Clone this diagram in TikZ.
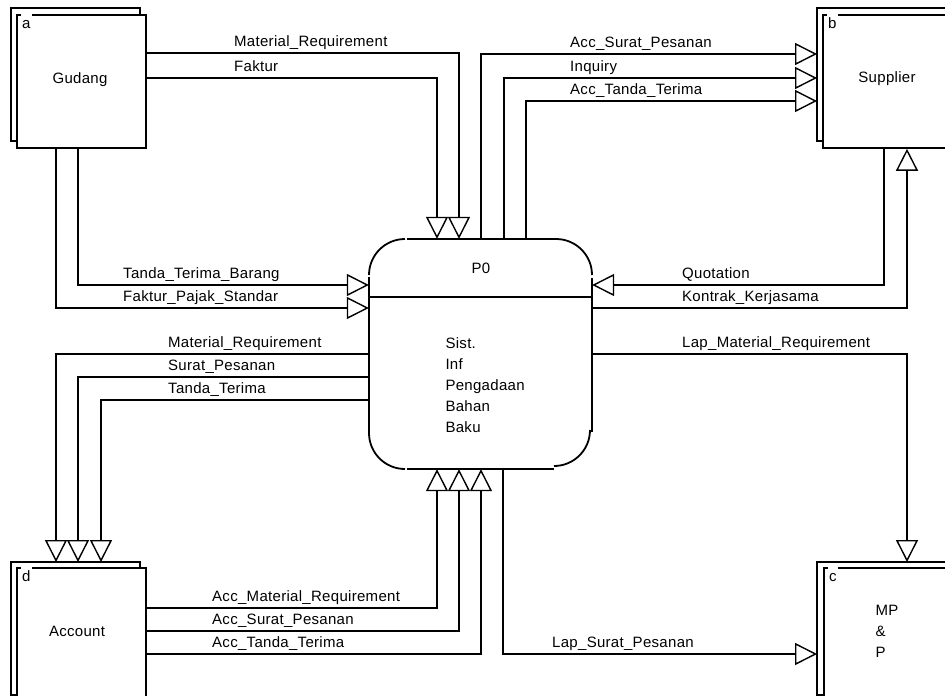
\documentclass[tikz,border=0pt]{standalone}
\usepackage{fontspec}
\setmainfont{Liberation Sans}[LetterSpace=2.0]
\usetikzlibrary{arrows.meta}
\newcommand\dfdfont{\fontsize{15pt}{21pt}\selectfont}
\begin{document}
\begin{tikzpicture}[x=1pt,y=-1pt,
  entity/.style={draw, fill=white, line width=1.8pt, minimum width=129pt,
    minimum height=133pt, inner sep=0pt, anchor=north west, align=left, font=\dfdfont},
  backbox/.style={draw, line width=1.8pt},
  entid/.style={fill=white, inner sep=1pt, text height=15pt, anchor=base west, font=\dfdfont},
  procline/.style={line width=1.8pt},
  flow/.style={line width=1.4pt, -{Triangle[open,length=22pt,width=22pt]}},
  lbl/.style={anchor=base west, inner sep=0pt, font=\dfdfont},
]
\useasboundingbox (0,0) rectangle (945,696);
\clip (0,0) rectangle (945,696);

% back outlines of the external entities
\draw[backbox] (11,8) rectangle (140,141);
\draw[backbox] (817,8) rectangle (946,141);
\draw[backbox] (11,562) rectangle (140,695);
\draw[backbox] (817,562) rectangle (946,695);
\coordinate (supback) at (817,8);
\coordinate (accback) at (11,562);
\coordinate (mpback) at (817,562);

% external entities
\node[entity] (gud) at (16,14) {};
\node[font=\dfdfont] (gudtxt) at (80,79.5) {Gudang};
\node[entity] (sup) at (822,14) {};
\node[font=\dfdfont] (suptxt) at (887,78.5) {Supplier};
\node[entity] (acc) at (16,567) {};
\node[font=\dfdfont] (acctxt) at (77,631) {Account};
\node[entity] (mpp) at (823,567) {};
\node[font=\dfdfont, align=left] (mpptxt) at (887,631) {MP\\\&\\P};

% entity identifiers
\node[entid] (ida) at (21,28.5) {a};
\node[entid] (idb) at (827,28.5) {b};
\node[entid] (idd) at (21,581.5) {d};
\node[entid] (idc) at (828,581.5) {c};

% process P0
\node[minimum width=223pt, minimum height=230pt, inner sep=0pt] (p0) at (480.5,354) {};
\draw[procline] (369,275) .. controls (369,255.1) and (385.1,239) .. (405,239);
\draw[procline] (407,239) -- (556,239);
\draw[procline] (556,239) .. controls (575.9,239) and (592,255.1) .. (592,275);
\draw[procline] (592,278) -- (592,432);
\draw[procline] (590,430) .. controls (590,449.9) and (573.9,466) .. (554,466);
\draw[procline] (554,469) -- (407,469);
\draw[procline] (369,433) .. controls (369,452.9) and (385.1,469) .. (405,469);
\draw[procline] (369,277) -- (369,433);
\draw[procline] (369,297) -- (592,297);
\node[font=\dfdfont] (p0id) at (481,268) {P0};
\node[font=\dfdfont, align=left, anchor=west] (p0name) at (442,385) {Sist.\\Inf\\Pengadaan\\Bahan\\Baku};

% Gudang -> P0
\draw[flow] (gud.east |- 0,53) -| (p0.north -| 459,0);
\draw[flow] (gud.east |- 0,78) -| (p0.north -| 437,0);
\node[lbl] (l1) at (234,46) {Material\_Requirement};
\node[lbl] (l2) at (234,71) {Faktur};
\draw[flow] (gud.south -| 78,0) |- (p0.west |- 0,285);
\draw[flow] (gud.south -| 56,0) |- (p0.west |- 0,308);
\node[lbl] (l3) at (123,278) {Tanda\_Terima\_Barang};
\node[lbl] (l4) at (123,301) {Faktur\_Pajak\_Standar};

% P0 -> Supplier
\draw[flow] (p0.north -| 481,0) |- (supback |- 0,54);
\draw[flow] (p0.north -| 504,0) |- (supback |- 0,78);
\draw[flow] (p0.north -| 526,0) |- (supback |- 0,101);
\node[lbl] (l5) at (570,47) {Acc\_Surat\_Pesanan};
\node[lbl] (l6) at (570,71) {Inquiry};
\node[lbl] (l7) at (570,94) {Acc\_Tanda\_Terima};

% Supplier <-> P0
\draw[flow] (sup.south -| 884,0) |- (p0.east |- 0,285);
\draw[flow] (p0.east |- 0,308) -| (sup.south -| 907,0);
\node[lbl] (l8) at (682,278) {Quotation};
\node[lbl] (l9) at (682,301) {Kontrak\_Kerjasama};

% P0 -> Account
\draw[flow] (p0.west |- 0,354) -| (accback -| 56,0);
\draw[flow] (p0.west |- 0,377) -| (accback -| 78,0);
\draw[flow] (p0.west |- 0,400) -| (accback -| 101,0);
\node[lbl] (l10) at (168,347) {Material\_Requirement};
\node[lbl] (l11) at (168,370) {Surat\_Pesanan};
\node[lbl] (l12) at (168,393) {Tanda\_Terima};

% Account -> P0
\draw[flow] (acc.east |- 0,608) -| (p0.south -| 437,0);
\draw[flow] (acc.east |- 0,631) -| (p0.south -| 459,0);
\draw[flow] (acc.east |- 0,654) -| (p0.south -| 481,0);
\node[lbl] (l13) at (212,601) {Acc\_Material\_Requirement};
\node[lbl] (l14) at (212,624) {Acc\_Surat\_Pesanan};
\node[lbl] (l15) at (212,647) {Acc\_Tanda\_Terima};

% P0 -> MP & P
\draw[flow] (p0.east |- 0,354) -| (mpback -| 907,0);
\node[lbl] (l16) at (682,347) {Lap\_Material\_Requirement};
\draw[flow] (p0.south -| 503,0) |- (mpback |- 0,654);
\node[lbl] (l17) at (552,647) {Lap\_Surat\_Pesanan};
\end{tikzpicture}
\end{document}
